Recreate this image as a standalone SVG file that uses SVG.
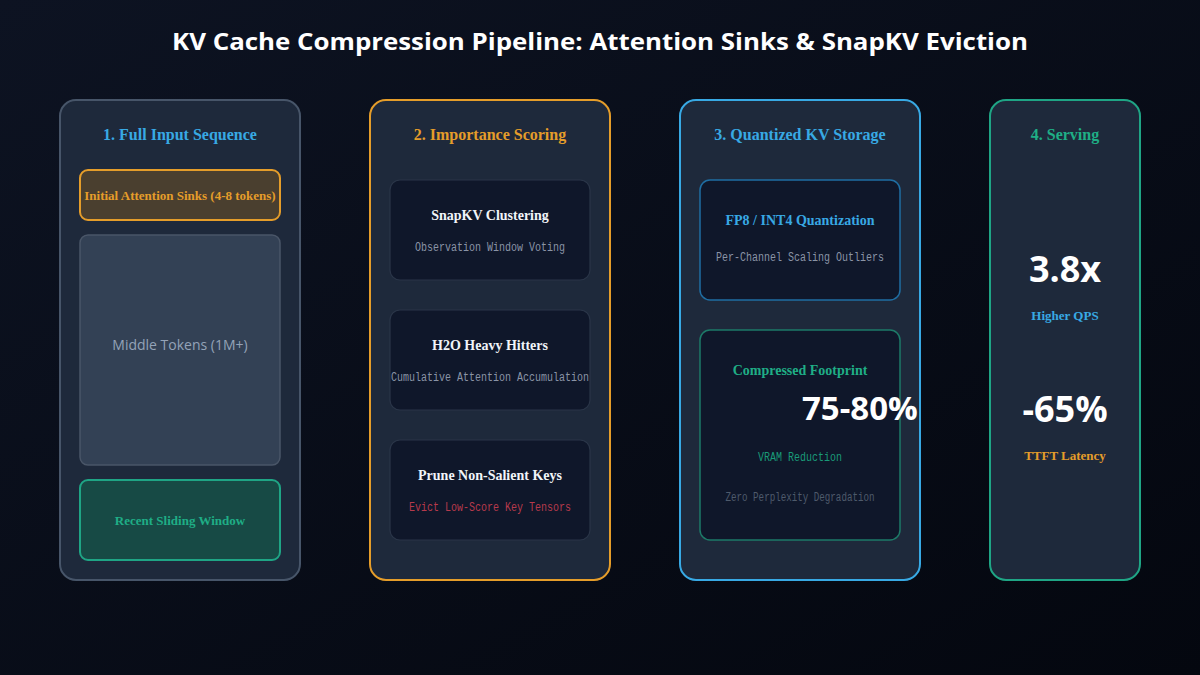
<svg xmlns="http://www.w3.org/2000/svg" width="1200" height="675" viewBox="0 0 1200 675">
<defs>
<linearGradient id="bg" x1="0" y1="0" x2="1" y2="1">
<stop offset="0" stop-color="#0d1322"/>
<stop offset="1" stop-color="#04070f"/>
</linearGradient>
</defs>
<style>
.panel{fill:#1e293b;stroke-width:2}
.head{font-family:"Liberation Serif",serif;font-weight:bold;font-size:16px;text-anchor:middle}
.card{fill:#0f172a;stroke:#2a3548;stroke-width:1.2}
.ttl{font-family:"Liberation Serif",serif;font-weight:bold;font-size:14px;text-anchor:middle;fill:#f1f5f9}
.sub{font-family:"Liberation Mono",monospace;font-size:12px;text-anchor:middle}
.big{font-family:"Open Sans",sans-serif;font-weight:bold;fill:#ffffff}
.lbl{font-family:"Liberation Serif",serif;font-weight:bold;text-anchor:middle}
</style>
<rect width="1200" height="675" fill="url(#bg)"/>
<text x="600" y="50" text-anchor="middle" font-family="Open Sans, sans-serif" font-weight="bold" font-size="24" fill="#ffffff" textLength="856" lengthAdjust="spacingAndGlyphs">KV Cache Compression Pipeline: Attention Sinks &amp; SnapKV Eviction</text>

<g id="panel1">
<rect class="panel" x="60" y="100" width="240" height="480" rx="16" stroke="#475569"/>
<text class="head" x="180" y="140" fill="#38a9e4">1. Full Input Sequence</text>
<rect x="80" y="170" width="200" height="50" rx="8" fill="#4a3f2f" stroke="#e59d2a" stroke-width="2"/>
<text class="lbl" x="180" y="200" font-size="13" fill="#e59d2a">Initial Attention Sinks (4-8 tokens)</text>
<rect x="80" y="235" width="200" height="230" rx="8" fill="#334155" stroke="#4a5668" stroke-width="1.5"/>
<text x="180" y="350" text-anchor="middle" font-family="Open Sans, sans-serif" font-size="14" fill="#94a3b8">Middle Tokens (1M+)</text>
<rect x="80" y="480" width="200" height="80" rx="8" fill="#174a45" stroke="#1fa585" stroke-width="2"/>
<text class="lbl" x="180" y="525" font-size="13" fill="#1fae86">Recent Sliding Window</text>
</g>

<g id="panel2">
<rect class="panel" x="370" y="100" width="240" height="480" rx="16" stroke="#e59d2a"/>
<text class="head" x="490" y="140" fill="#e59d2a">2. Importance Scoring</text>
<rect class="card" x="390" y="180" width="200" height="100" rx="10"/>
<text class="ttl" x="490" y="220">SnapKV Clustering</text>
<text class="sub" x="490" y="251" fill="#8a94a6" textLength="150" lengthAdjust="spacingAndGlyphs">Observation Window Voting</text>
<rect class="card" x="390" y="310" width="200" height="100" rx="10"/>
<text class="ttl" x="490" y="350">H2O Heavy Hitters</text>
<text class="sub" x="490" y="381" fill="#8a94a6" textLength="198" lengthAdjust="spacingAndGlyphs">Cumulative Attention Accumulation</text>
<rect class="card" x="390" y="440" width="200" height="100" rx="10"/>
<text class="ttl" x="490" y="480">Prune Non-Salient Keys</text>
<text class="sub" x="490" y="511" fill="#b63a4c" textLength="162" lengthAdjust="spacingAndGlyphs">Evict Low-Score Key Tensors</text>
</g>

<g id="panel3">
<rect class="panel" x="680" y="100" width="240" height="480" rx="16" stroke="#38a9e4"/>
<text class="head" x="800" y="140" fill="#38a9e4">3. Quantized KV Storage</text>
<rect x="700" y="180" width="200" height="120" rx="10" fill="#0f172a" stroke="#1f6ea3" stroke-width="1.5"/>
<text class="lbl" x="800" y="225" fill="#38a9e4" font-size="14">FP8 / INT4 Quantization</text>
<text class="sub" x="800" y="261" fill="#8a94a6" textLength="168" lengthAdjust="spacingAndGlyphs">Per-Channel Scaling Outliers</text>
<rect x="700" y="330" width="200" height="210" rx="10" fill="#0f172a" stroke="#1d7a68" stroke-width="1.5"/>
<text class="lbl" x="800" y="375" fill="#1fae86" font-size="14">Compressed Footprint</text>
<text class="big" x="802" y="420" font-size="33">75-80%</text>
<text class="sub" x="800" y="461" fill="#1a9a78" textLength="84" lengthAdjust="spacingAndGlyphs">VRAM Reduction</text>
<text class="sub" x="800" y="501" fill="#4e5a6b" textLength="149" lengthAdjust="spacingAndGlyphs">Zero Perplexity Degradation</text>
</g>

<g id="panel4">
<rect class="panel" x="990" y="100" width="150" height="480" rx="16" stroke="#1fa585"/>
<text class="head" x="1065" y="140" fill="#1fae86">4. Serving</text>
<text class="big" x="1065" y="282" font-size="36" text-anchor="middle">3.8x</text>
<text class="lbl" x="1065" y="320" font-size="13" fill="#38a9e4">Higher QPS</text>
<text class="big" x="1065" y="422" font-size="36" text-anchor="middle">-65%</text>
<text class="lbl" x="1065" y="460" font-size="13" fill="#e59d2a">TTFT Latency</text>
</g>

<g id="connectors"></g>
</svg>
